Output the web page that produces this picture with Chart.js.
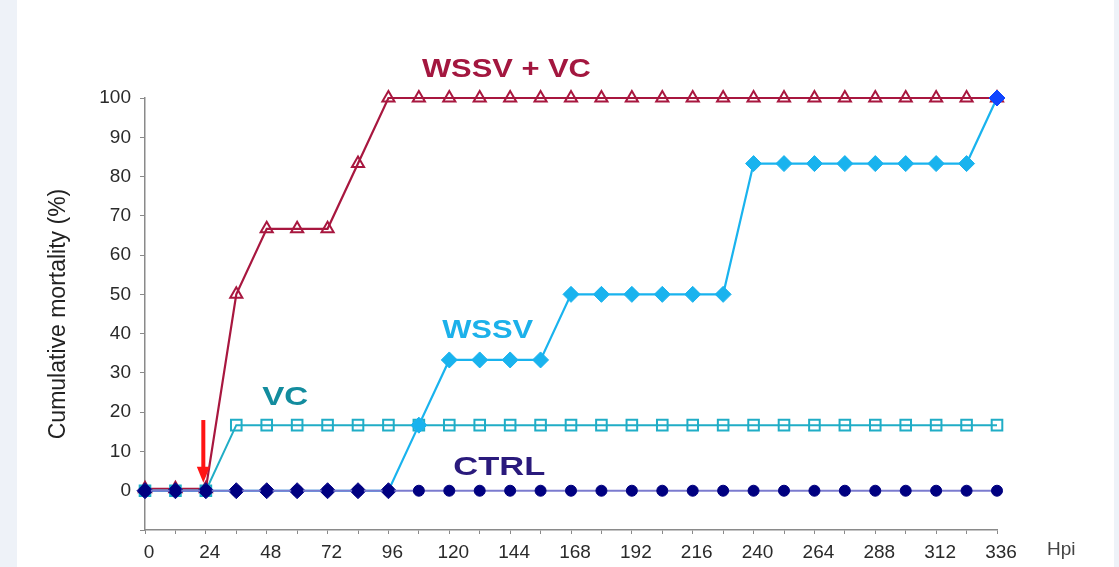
<!DOCTYPE html>
<html>
<head>
<meta charset="utf-8">
<script src="https://cdn.jsdelivr.net/npm/chart.js@4.4.1/dist/chart.umd.min.js"></script>
<style>
  html, body { margin: 0; padding: 0; background: #eef2f8; }
  #wrap { width: 1119px; height: 567px; }
  canvas { display: block; }
</style>
</head>
<body>
<div id="wrap"><canvas id="c" width="1119" height="567"></canvas></div>
<script>
// ---- data ----
const hours  = [0, 12, 24, 36, 48, 60, 72, 84, 96, 108, 120, 132, 144, 156, 168, 180, 192, 204, 216, 228, 240, 252, 264, 276, 288, 300, 312, 324, 336];
const wssvVc = [0.5, 0.5, 0.5, 50, 66.7, 66.7, 66.7, 83.3, 100, 100, 100, 100, 100, 100, 100, 100, 100, 100, 100, 100, 100, 100, 100, 100, 100, 100, 100, 100, 100];
const vc     = [0, 0, 0, 16.7, 16.7, 16.7, 16.7, 16.7, 16.7, 16.7, 16.7, 16.7, 16.7, 16.7, 16.7, 16.7, 16.7, 16.7, 16.7, 16.7, 16.7, 16.7, 16.7, 16.7, 16.7, 16.7, 16.7, 16.7, 16.7];
const wssv   = [0, 0, 0, 0, 0, 0, 0, 0, 0, 16.7, 33.3, 33.3, 33.3, 33.3, 50, 50, 50, 50, 50, 50, 83.3, 83.3, 83.3, 83.3, 83.3, 83.3, 83.3, 83.3, 100];
const ctrl   = [0, 0, 0, 0, 0, 0, 0, 0, 0, 0, 0, 0, 0, 0, 0, 0, 0, 0, 0, 0, 0, 0, 0, 0, 0, 0, 0, 0, 0];
const xTickLabelsEvery = 24;
const yTicks = [0, 10, 20, 30, 40, 50, 60, 70, 80, 90, 100];
const seriesNames = ['WSSV + VC', 'VC', 'WSSV', 'CTRL'];
const yTitle = 'Cumulative mortality (%)';
const xUnit = 'Hpi';
// infection arrow (data coords: hour, from value, to value)
const arrowHour = 23, arrowFrom = 18, arrowTo = 2;

const pts = arr => hours.map((h, i) => ({ x: h, y: arr[i] }));

const FONT = '"Liberation Sans", Arial, sans-serif';

const bgPlugin = {
  id: 'bg',
  beforeDraw(chart) {
    const ctx = chart.ctx;
    ctx.save();
    ctx.fillStyle = '#eef2f8';
    ctx.fillRect(0, 0, chart.width, chart.height);
    ctx.fillStyle = '#ffffff';
    ctx.fillRect(17, 0, 1114 - 17, chart.height);
    ctx.restore();
  }
};

function stretchText(ctx, text, x, y, w, font, color) {
  ctx.save();
  ctx.font = font;
  ctx.fillStyle = color;
  ctx.textBaseline = 'middle';
  ctx.textAlign = 'left';
  const m = ctx.measureText(text).width;
  ctx.translate(x, y);
  ctx.scale(w / m, 1);
  ctx.fillText(text, 0, 0);
  ctx.restore();
}

const annoPlugin = {
  id: 'anno',
  afterDatasetsDraw(chart) {
    const ctx = chart.ctx;
    const xs = chart.scales.x, ys = chart.scales.y;
    const bold = 'bold 26px ' + FONT;
    // series labels (placed at data coordinates)
    stretchText(ctx, seriesNames[0], xs.getPixelForValue(109.2), ys.getPixelForValue(107.2), 169, bold, '#a3173f');
    stretchText(ctx, seriesNames[2], xs.getPixelForValue(117.2), ys.getPixelForValue(40.6), 91, bold, '#1cb1ea');
    stretchText(ctx, seriesNames[1], xs.getPixelForValue(46.2), ys.getPixelForValue(23.7), 46, bold, '#138c9e');
    stretchText(ctx, seriesNames[3], xs.getPixelForValue(121.6), ys.getPixelForValue(5.8), 92, bold, '#2a1a7c');

    // red arrow
    const ax = xs.getPixelForValue(arrowHour);
    const y1 = ys.getPixelForValue(arrowFrom);
    const y2 = ys.getPixelForValue(arrowTo);
    ctx.save();
    ctx.fillStyle = '#ff1414';
    ctx.fillRect(ax - 2, y1, 4, (y2 - y1) - 14);
    ctx.beginPath();
    ctx.moveTo(ax - 6.5, y2 - 16);
    ctx.lineTo(ax + 6.5, y2 - 16);
    ctx.lineTo(ax, y2);
    ctx.closePath();
    ctx.fill();
    ctx.restore();

    // unit label at end of x axis
    ctx.save();
    ctx.font = '19px ' + FONT;
    ctx.fillStyle = '#444';
    ctx.textBaseline = 'middle';
    ctx.textAlign = 'left';
    ctx.fillText(xUnit, 1047, 550);
    ctx.restore();
  }
};

const red = '#a8173f', teal = '#20adc6', sky = '#19b3ee', navy = '#000080', ctrlLine = '#7b7bcf';
const wssvPointColor = c => (c.parsed && c.parsed.y === 0) ? '#0a0a8a' : (c.parsed && c.parsed.y >= 100 ? '#1045ff' : sky);

new Chart(document.getElementById('c'), {
  type: 'line',
  data: {
    datasets: [
      {
        label: seriesNames[3], data: pts(ctrl), order: 0,
        borderColor: ctrlLine, borderWidth: 1.8,
        pointStyle: 'circle', pointRadius: 5.5, pointBackgroundColor: navy, pointBorderColor: navy, pointBorderWidth: 1
      },
      {
        label: seriesNames[2], data: pts(wssv), order: 1,
        borderColor: sky, borderWidth: 2.2,
        pointStyle: 'rectRot', pointRadius: 8,
        pointBackgroundColor: wssvPointColor, pointBorderColor: wssvPointColor,
        pointBorderWidth: 1
      },
      {
        label: seriesNames[1], data: pts(vc), order: 2,
        borderColor: teal, borderWidth: 2,
        pointStyle: 'rect', pointRadius: 7.5, pointBackgroundColor: 'rgba(255,255,255,0)', pointBorderColor: teal, pointBorderWidth: 2
      },
      {
        label: seriesNames[0], data: pts(wssvVc), order: 3,
        borderColor: red, borderWidth: 2.2,
        pointStyle: 'triangle', pointRadius: 7, pointBackgroundColor: 'rgba(255,255,255,0)', pointBorderColor: red, pointBorderWidth: 2
      }
    ]
  },
  options: {
    responsive: false,
    animation: false,
    events: [],
    clip: false,
    layout: { padding: { left: 0, top: 98, right: 122, bottom: 0 } },
    plugins: { legend: { display: false }, tooltip: { enabled: false } },
    elements: { line: { tension: 0 } },
    scales: {
      x: {
        type: 'linear', min: 0, max: 336,
        afterFit: s => { s.height = 37; },
        border: { display: true, color: '#8a8a8a', width: 1.5 },
        grid: { drawOnChartArea: false, drawTicks: true, tickLength: 4, color: '#8a8a8a' },
        ticks: {
          stepSize: 12, autoSkip: false, maxRotation: 0, padding: 7, labelOffset: 4,
          color: '#2a2a2a', font: { family: FONT, size: 19 },
          callback: v => (v % xTickLabelsEvery === 0 ? String(v) : '')
        }
      },
      y: {
        type: 'linear', min: -10, max: 100,
        afterFit: s => { s.width = 145; },
        afterBuildTicks: s => { s.ticks = [-10].concat(yTicks).map(v => ({ value: v })); },
        border: { display: true, color: '#8a8a8a', width: 1.5 },
        grid: { drawOnChartArea: false, drawTicks: true, tickLength: 5, color: '#8a8a8a' },
        ticks: {
          padding: 9, color: '#2a2a2a', font: { family: FONT, size: 19 },
          callback: v => (v < 0 ? '' : String(v))
        },
        title: {
          display: true, text: yTitle, color: '#222',
          font: { family: FONT, size: 23 }, padding: { top: 45, bottom: 0 }
        }
      }
    }
  },
  plugins: [bgPlugin, annoPlugin]
});
</script>
</body>
</html>
